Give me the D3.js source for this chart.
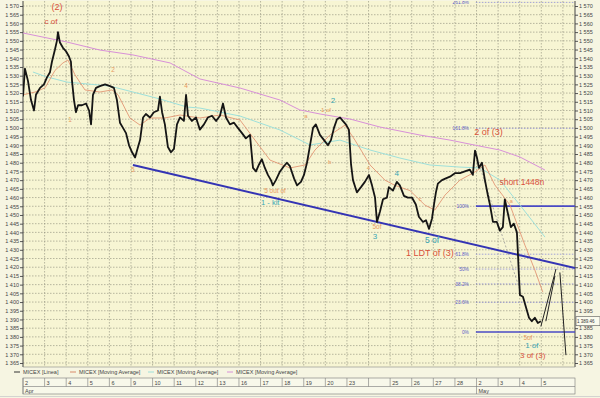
<!DOCTYPE html>
<html><head><meta charset="utf-8">
<script src="https://cdn.jsdelivr.net/npm/d3@7"></script>
<style>
body{margin:0;background:#f6f5e2;}
svg{display:block;font-family:"Liberation Sans",Arial,sans-serif;}
</style></head><body>
<svg id="c" width="600" height="398"></svg>
<script>
// ---------- DATA ----------
const dayLabels = ["2","3","4","5","6","9","10","11","12","13","16","17","18","19","20","23","","25","26","27","28","2","3","4","5"];
const monthLabels = [{day:0,label:"Apr"},{day:21,label:"May"}];
const priceTicks = d3.range(1365, 1571, 5);

// MICEX hourly price (t = trading-day index, fractional)
const priceT = [0,0.09,0.23,0.37,0.51,0.6,0.79,0.97,1.11,1.25,1.34,1.48,1.57,1.62,1.71,1.85,1.99,2.13,2.22,2.27,2.36,2.45,2.55,2.73,2.92,3.06,3.15,3.24,3.38,3.56,3.8,4.03,4.21,4.35,4.49,4.63,4.77,4.91,5.05,5.19,5.28,5.42,5.56,5.69,5.88,6.06,6.25,6.34,6.44,6.57,6.71,6.85,6.99,7.13,7.27,7.45,7.55,7.64,7.82,8.01,8.19,8.38,8.56,8.75,8.94,9.12,9.26,9.4,9.58,9.77,9.95,10.14,10.32,10.51,10.65,10.79,10.93,11.06,11.2,11.34,11.48,11.57,11.71,11.9,12.08,12.22,12.36,12.55,12.69,12.87,13.01,13.15,13.29,13.43,13.56,13.75,13.94,14.12,14.26,14.4,14.54,14.68,14.81,14.95,15.09,15.19,15.28,15.46,15.65,15.83,16.02,16.16,16.3,16.39,16.53,16.67,16.85,16.94,17.13,17.31,17.45,17.64,17.82,18.01,18.19,18.33,18.52,18.66,18.8,18.94,19.03,19.12,19.21,19.4,19.58,19.77,20,20.23,20.46,20.69,20.83,20.93,21.02,21.11,21.25,21.39,21.53,21.62,21.76,21.94,22.08,22.22,22.31,22.45,22.59,22.73,22.87,22.92,22.96,23.01,23.15,23.29,23.43,23.56,23.7,23.84,23.98];
const priceV = [1518,1534,1527,1516,1510,1519,1523,1525,1529,1532,1538,1545,1550,1555,1549,1546,1544,1541,1538,1527,1516,1509,1513,1513,1514,1510,1502,1519,1523,1524,1525,1524,1523,1516,1503,1500,1497,1490,1486,1483,1487,1493,1506,1508,1506,1509,1510,1518,1509,1502,1489,1486,1488,1502,1506,1504,1519,1507,1504,1506,1499,1502,1506,1507,1504,1507,1514,1506,1502,1503,1500,1497,1494,1496,1477,1475,1479,1482,1477,1473,1470,1467,1470,1475,1478,1480,1478,1471,1467,1469,1473,1480,1490,1500,1502,1496,1493,1490,1493,1500,1505,1506,1504,1502,1499,1479,1470,1463,1466,1469,1473,1467,1460,1446,1452,1459,1460,1466,1464,1469,1467,1461,1460,1460,1456,1449,1446,1447,1442,1448,1456,1463,1468,1470,1471,1472,1474,1474,1475,1476,1473,1487,1483,1477,1480,1470,1461,1456,1446,1446,1441,1443,1459,1451,1443,1445,1440,1427,1416,1404,1403,1397,1391,1389,1391,1388,1389];

// Moving averages
const maShortT = [0,0.56,1.02,1.48,1.85,2.08,2.41,2.87,3.56,4.12,4.4,4.95,5.42,5.88,6.57,7.27,8.19,9.12,10.05,10.74,11.44,12.36,13.06,13.52,14.21,14.91,15.37,16.07,16.76,17.22,17.92,18.61,19.07,19.54,20.23,20.93,21.39,21.85,22.55,23.24,23.7,24.07];
const maShortV = [1519,1520.6,1523,1533,1537.3,1539,1530.4,1521.8,1520.6,1521.8,1519,1505.7,1501.6,1505.7,1505.7,1507.4,1505.7,1507.4,1504.5,1493,1481.5,1477,1478.7,1487.3,1495.9,1501.6,1493,1478.7,1470,1467,1464,1455.7,1452.8,1461.4,1470,1474.7,1478.7,1467.2,1455.7,1432.7,1418.4,1405.7];
const maMidT = [0.46,1.04,2.04,4.03,6.34,7.59,8.19,10.05,11.9,13.29,14.68,16.07,17.45,18.84,20.23,21.16,22.08,23.01,24.17];
const maMidV = [1532.1,1529.5,1526.3,1524,1516.6,1512,1511.4,1506.8,1498.8,1490.2,1493,1487.3,1482.7,1478.7,1477.5,1477,1470.1,1455.7,1437.3];
const maLongT = [0,2.04,3.56,5.09,6.81,8.19,10.05,11.9,12.82,13.75,15.14,16.53,18.38,19.77,20.97,22.08,23.01,24.17];
const maLongV = [1554.5,1549.3,1544.7,1541.9,1537.3,1528.1,1522.9,1516,1510.3,1508,1505.1,1500.5,1495.9,1493,1490,1487.3,1483.3,1475.8];

// Annotations: trend line, projections, fibonacci
const trendLine = [{t:5.09,p:1478.7},{t:25.56,p:1419.5}];
const projections = [
  [{t:23.98,p:1386},{t:24.68,p:1419}],
  [{t:24.21,p:1389},{t:24.63,p:1415}],
  [{t:24.86,p:1417},{t:25.14,p:1369.5}]
];
const fibDiagonal = [{t:21.02,p:1482.7},{t:23.01,p:1406.9}];
const fibHigh = 1455.1, fibLow = 1382.8, fibStart = 20.97;
const fibLevels = [0, 0.236, 0.382, 0.5, 0.618, 1, 1.618, 2.618];
const fibNames = ["0%","23.6%","38.2%","50%","61.8%","100%","161.8%","261.8%"];
const lastPrice = "1 389.46";

const labels = [
  {t:1.57,p:1567.5,text:"(2)",c:"#d8503a",s:9},
  {t:1.3,p:1559.7,text:"c of",c:"#d8503a",s:8},
  {t:21.55,p:1496,text:"2 of (3)",c:"#d8503a",s:9},
  {t:23.1,p:1467.2,text:"short 1448n",c:"#d8503a",s:8.5},
  {t:18.84,p:1426.4,text:"1 LDT of (3)",c:"#d8503a",s:9},
  {t:18.94,p:1433.9,text:"5 of",c:"#3aa6b4",s:8.5},
  {t:16.39,p:1441.9,text:"5of",c:"#e89a60",s:6.5},
  {t:16.3,p:1436.2,text:"3",c:"#3aa6b4",s:8},
  {t:11.67,p:1462.6,text:"5 out of",c:"#e89a60",s:6.5},
  {t:11.45,p:1456,text:"1 - kit",c:"#3aa6b4",s:7.5},
  {t:14.35,p:1514.3,text:"2",c:"#3aa6b4",s:8},
  {t:17.31,p:1472.4,text:"4",c:"#3aa6b4",s:8},
  {t:2.18,p:1503.4,text:"1",c:"#e89a60",s:6.5},
  {t:4.17,p:1532.1,text:"2",c:"#e89a60",s:6.5},
  {t:7.55,p:1522.9,text:"4",c:"#e89a60",s:6.5},
  {t:5.09,p:1474.7,text:"5",c:"#e89a60",s:6.5},
  {t:14.03,p:1509.1,text:"1 of",c:"#e89a60",s:6},
  {t:13.1,p:1505.7,text:"a",c:"#e89a60",s:6},
  {t:14.2,p:1479,text:"b",c:"#e89a60",s:6},
  {t:16.0,p:1476,text:"4",c:"#e89a60",s:6},
  {t:18.4,p:1458,text:"c",c:"#e89a60",s:6},
  {t:22.6,p:1457,text:"a",c:"#e89a60",s:6},
  {t:23.38,p:1378.1,text:"5of",c:"#e89a60",s:6.5},
  {t:23.56,p:1373.4,text:"1 of",c:"#3aa6b4",s:8},
  {t:23.6,p:1367.6,text:"3 of (3)",c:"#d8503a",s:8}
];

const legendItems = [
  {text:"MICEX [Linea]",c:"#333"},
  {text:"MICEX [Moving Average]",c:"#d98a6a"},
  {text:"MICEX [Moving Average]",c:"#9ee0da"},
  {text:"MICEX [Moving Average]",c:"#d890d8"}
];

// ---------- DRAW ----------
const svg = d3.select("#c");
const X0 = 23, X1 = 575, YT = 1, YB = 367;
const x = d3.scaleLinear().domain([0, 25.56]).range([X0, X1]);
const y = d3.scaleLinear().domain([1365, 1570]).range([363, 6]);
const fmt = v => d3.format(",")(v).replace(",", " ");
const lastP = priceV[priceV.length-1];
const ly = y(lastP);

svg.append("rect").attr("x",X0).attr("y",YT).attr("width",X1-X0).attr("height",YB-YT).attr("fill","#f7f5d3");

const defs = svg.append("defs");
defs.append("clipPath").attr("id","clip").append("rect").attr("x",X0).attr("y",YT).attr("width",X1-X0).attr("height",YB-YT);

// grid
const g = svg.append("g");
g.selectAll(".hg").data(priceTicks).join("line")
  .attr("x1",X0).attr("x2",X1).attr("y1",d=>y(d)).attr("y2",d=>y(d))
  .attr("stroke","#8c8c78").attr("stroke-width",0.6).attr("stroke-dasharray","1.5,1.5");
g.selectAll(".vg").data(d3.range(1,26)).join("line")
  .attr("x1",d=>x(d)).attr("x2",d=>x(d)).attr("y1",YT).attr("y2",YB)
  .attr("stroke","#8c8c78").attr("stroke-width",0.6).attr("stroke-dasharray","1.5,1.5");

// axes
const axL = svg.append("g").attr("transform",`translate(${X0},0)`)
  .call(d3.axisLeft(y).tickValues(priceTicks).tickFormat(fmt).tickSize(3).tickPadding(1));
const axR = svg.append("g").attr("transform",`translate(${X1},0)`)
  .call(d3.axisRight(y).tickValues(priceTicks.filter(v=>Math.abs(y(v)-ly)>6)).tickFormat(fmt).tickSize(3).tickPadding(1));
[axL,axR].forEach(a=>{
  a.select(".domain").attr("stroke","#444").attr("d", null);
  a.selectAll("line").attr("stroke","#555");
  a.selectAll("text").attr("font-size",5.5).attr("fill","#444");
});
svg.append("line").attr("x1",X0).attr("x2",X0).attr("y1",YT).attr("y2",YB).attr("stroke","#444");
svg.append("line").attr("x1",X1).attr("x2",X1).attr("y1",YT).attr("y2",YB).attr("stroke","#444");
svg.append("line").attr("x1",X0).attr("x2",X1).attr("y1",YB).attr("y2",YB).attr("stroke","#888").attr("stroke-width",0.6);

const plot = svg.append("g").attr("clip-path","url(#clip)");
const line = d3.line().x(d=>x(d.t)).y(d=>y(d.p));
const zipS = (T,V) => T.map((t,i)=>({t, p:V[i]}));

// fibonacci
fibLevels.forEach((lv,i)=>{
  const p = fibLow + lv*(fibHigh-fibLow);
  const solid = (lv===0 || lv===1);
  plot.append("line").attr("x1",x(fibStart)).attr("x2",X1).attr("y1",y(p)).attr("y2",y(p))
    .attr("stroke", solid ? "#4a4ac4" : "#8a8ad8")
    .attr("stroke-width", solid ? 1.6 : 0.8)
    .attr("stroke-dasharray", solid ? null : "1.5,1.5");
  plot.append("text").attr("x",x(fibStart)-7).attr("y",y(p)+1.8).attr("text-anchor","end")
    .attr("font-size",4.8).attr("fill","#5a5ac8").text(fibNames[i]);
});
plot.append("path").attr("d",line(fibDiagonal)).attr("fill","none").attr("stroke","#9a9a9a")
  .attr("stroke-width",0.8).attr("stroke-dasharray","2,2");

// moving averages
plot.append("path").attr("d",line(zipS(maLongT,maLongV))).attr("fill","none").attr("stroke","#d890d8").attr("stroke-width",1);
plot.append("path").attr("d",line(zipS(maMidT,maMidV))).attr("fill","none").attr("stroke","#9ee0da").attr("stroke-width",1);
plot.append("path").attr("d",line(zipS(maShortT,maShortV))).attr("fill","none").attr("stroke","#e08a68").attr("stroke-width",0.8);

// trend line
plot.append("path").attr("d",line(trendLine)).attr("stroke","#3434b4").attr("stroke-width",2).attr("fill","none");

// price
plot.append("path").attr("d",line(zipS(priceT,priceV))).attr("fill","none").attr("stroke","#151515").attr("stroke-width",1.8).attr("stroke-linejoin","round");

// projections
projections.forEach(pr=>plot.append("path").attr("d",line(pr)).attr("stroke","#222").attr("stroke-width",1).attr("fill","none"));

// labels
svg.append("g").selectAll("text").data(labels).join("text")
  .attr("x",d=>x(d.t)).attr("y",d=>y(d.p)).attr("text-anchor","middle")
  .attr("font-size",d=>d.s).attr("fill",d=>d.c).text(d=>d.text);

// last price tag
svg.append("rect").attr("x",X1+1).attr("y",ly-4.5).attr("width",24).attr("height",9).attr("fill","#fbfbee").attr("stroke","#555").attr("stroke-width",0.6);
svg.append("text").attr("x",X1+2).attr("y",ly+1.8).attr("font-size",4.5).attr("fill","#333").text(lastPrice);

// legend
const legendX = [14, 70, 148, 227];
legendItems.forEach((d,i)=>{
  const gx = legendX[i];
  svg.append("line").attr("x1",gx).attr("x2",gx+6).attr("y1",372).attr("y2",372).attr("stroke",d.c).attr("stroke-width",1);
  svg.append("text").attr("x",gx+9).attr("y",374).attr("font-size",5.5).attr("fill","#444").text(d.text);
});

// date axis
const dg = svg.append("g");
dg.append("rect").attr("x",X0).attr("y",378).attr("width",X1-X0).attr("height",16).attr("fill","#f8f8ea").attr("stroke","#777").attr("stroke-width",0.6);
dg.append("line").attr("x1",X0).attr("x2",X1).attr("y1",386.5).attr("y2",386.5).attr("stroke","#777").attr("stroke-width",0.6);
dg.selectAll(".dc").data(dayLabels).join("line")
  .attr("x1",(d,i)=>x(i)).attr("x2",(d,i)=>x(i)).attr("y1",378).attr("y2",386.5).attr("stroke","#777").attr("stroke-width",0.6);
dg.selectAll(".dt").data(dayLabels).join("text")
  .attr("x",(d,i)=>x(i)+2).attr("y",384.5).attr("font-size",5.5).attr("fill","#444").text(d=>d);
monthLabels.forEach(m=>{
  dg.append("line").attr("x1",x(m.day)).attr("x2",x(m.day)).attr("y1",386.5).attr("y2",394).attr("stroke","#777").attr("stroke-width",0.6);
  dg.append("text").attr("x",x(m.day)+2).attr("y",392.5).attr("font-size",5.5).attr("fill","#444").text(m.label);
});
svg.append("line").attr("x1",0).attr("x2",600).attr("y1",396.5).attr("y2",396.5).attr("stroke","#ccc").attr("stroke-width",0.8);
</script>
</body></html>
